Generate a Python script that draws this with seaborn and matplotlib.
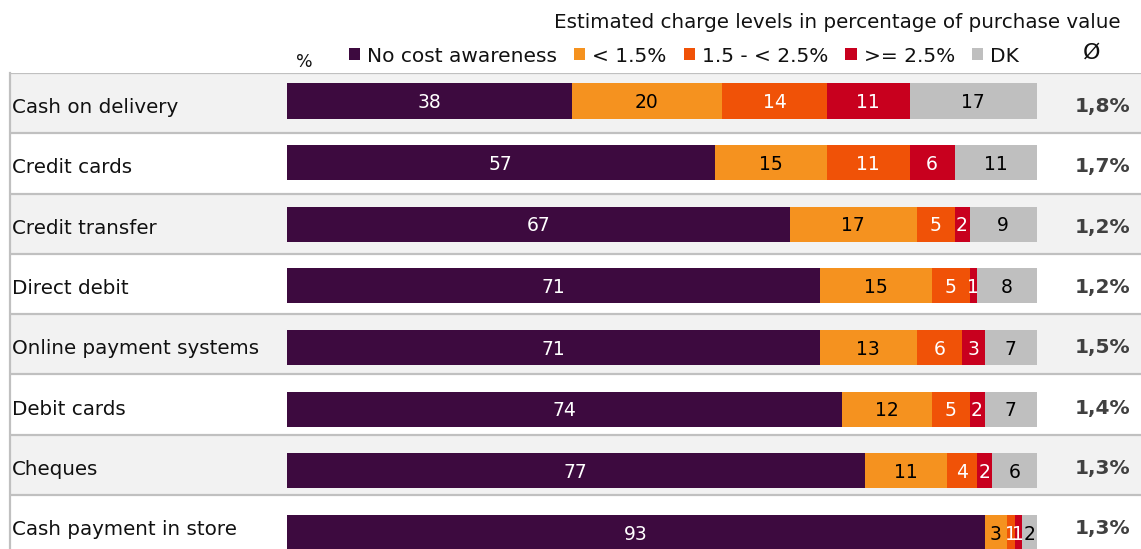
import matplotlib
matplotlib.use("Agg")
import matplotlib.pyplot as plt
from matplotlib.patches import Patch
import numpy as np
import pandas as pd
import seaborn as sns

sns.set_theme(style="white")
plt.rcParams["font.family"] = ["DejaVu Sans"]

# ---- data ----
categories = [
    "Cash on delivery",
    "Credit cards",
    "Credit transfer",
    "Direct debit",
    "Online payment systems",
    "Debit cards",
    "Cheques",
    "Cash payment in store",
]
series_names = ["No cost awareness", "< 1.5%", "1.5 - < 2.5%", ">= 2.5%", "DK"]
no_cost_awareness = [38, 57, 67, 71, 71, 74, 77, 93]
below_1_5 = [20, 15, 17, 15, 13, 12, 11, 3]
between_1_5_2_5 = [14, 11, 5, 5, 6, 5, 4, 1]
above_2_5 = [11, 6, 2, 1, 3, 2, 2, 1]
dont_know = [17, 11, 9, 8, 7, 7, 6, 2]
average_charge = ["1,8%", "1,7%", "1,2%", "1,2%", "1,5%", "1,4%", "1,3%", "1,3%"]

colors = ["#3d0a3f", "#f5921f", "#f05207", "#c8001e", "#bfbfbf"]
text_colors = ["white", "black", "white", "white", "black"]

values = np.array([no_cost_awareness, below_1_5, between_1_5_2_5, above_2_5, dont_know])
cumulative = values.cumsum(axis=0)

W, H = 1141, 549
fig = plt.figure(figsize=(W / 100, H / 100), dpi=100)

def fx(px):
    return px / W

def fy(py):
    return 1 - py / H

# shared horizontal scale: 0 at x=287px, 100 at x=1037px
x_left_px, x_right_px = 10, W
x0_px, unit_px = 287, 7.5
xlim = ((x_left_px - x0_px) / unit_px, (x_right_px - x0_px) / unit_px)

# ---- table background (rows, separators, labels) ----
row_h = 60.3
table_top = 73
ax_bg = fig.add_axes([fx(x_left_px), 0, fx(x_right_px) - fx(x_left_px), fy(table_top)])
ax_bg.set_xlim(*xlim)
ax_bg.set_ylim(-0.5 + (H - table_top) / row_h, -0.5)
for i in range(len(categories)):
    if i % 2 == 0:
        ax_bg.axhspan(i - 0.5, i + 0.5, color="#f2f2f2", lw=0, zorder=0)
for i in range(len(categories) + 1):
    ax_bg.axhline(i - 0.5, color="#c0c0c0", lw=1.6, zorder=1)
for s in ["top", "right", "bottom"]:
    ax_bg.spines[s].set_visible(False)
ax_bg.spines["left"].set_color("#c0c0c0")
ax_bg.spines["left"].set_linewidth(1.6)
ax_bg.set_xticks([])
ax_bg.set_yticks([])
ax_bg.set_facecolor("white")

label_x = (12 - x0_px) / unit_px
value_x = (1130 - x0_px) / unit_px
for i, (cat, avg) in enumerate(zip(categories, average_charge)):
    ax_bg.text(label_x, i + 0.165, cat, ha="left", va="baseline",
               fontsize=14.3, color="#111111")
    ax_bg.text(value_x, i + 0.15, avg, ha="right", va="baseline",
               fontsize=14.5, fontweight="bold", color="#404040")

# ---- stacked bars ----
bar_step = 61.64
bar_top = 101 - bar_step / 2
ax = fig.add_axes([fx(x_left_px), 0, fx(x_right_px) - fx(x_left_px), fy(bar_top)])
for k in reversed(range(len(series_names))):
    df = pd.DataFrame({"category": categories, "value": cumulative[k]})
    sns.barplot(data=df, x="value", y="category", orient="h", color=colors[k],
                saturation=1, width=0.57, linewidth=0, ax=ax)
ax.set_xlim(*xlim)
ax.set_ylim(-0.5 + (H - bar_top) / bar_step, -0.5)
ax.set_axis_off()
ax.patch.set_alpha(0)

for i in range(len(categories)):
    for k in range(len(series_names)):
        v = values[k, i]
        center = cumulative[k, i] - v / 2
        ax.text(center, i + 0.115, str(v), ha="center", va="baseline",
                fontsize=13.5, color=text_colors[k])

# ---- header: title, legend, symbols ----
fig.text(fx(1120), fy(22), "Estimated charge levels in percentage of purchase value",
         ha="right", va="center", fontsize=14.3, color="#111111")
fig.text(fx(304), fy(62), "%", ha="center", va="center", fontsize=12.5, color="#111111")
fig.text(fx(1092), fy(53), "Ø", ha="center", va="center", fontsize=16, color="#111111")

handles = [Patch(facecolor=c, edgecolor="none") for c in colors]
leg = fig.legend(handles, series_names, ncol=5, loc="center left",
                 bbox_to_anchor=(fx(349), fy(56)), frameon=False, fontsize=14.5,
                 handlelength=0.55, handleheight=0.55, handletextpad=0.35,
                 columnspacing=0.85, borderpad=0, borderaxespad=0)
for t in leg.get_texts():
    t.set_color("#111111")

fig.savefig("out.png", dpi=100)
